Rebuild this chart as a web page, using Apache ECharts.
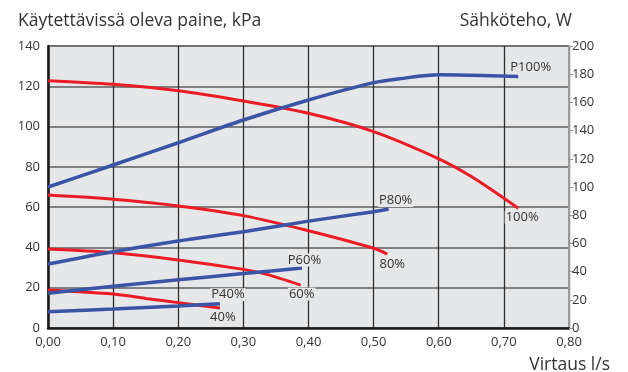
<!DOCTYPE html>
<html>
<head>
<meta charset="utf-8">
<script src="https://cdn.jsdelivr.net/npm/echarts@6/dist/echarts.min.js"></script>
<style>
  html, body { margin: 0; padding: 0; background: #ffffff; }
  #chart { width: 628px; height: 372px; }
</style>
</head>
<body>
<div id="chart"></div>
<script>
// Flow (l/s) and available pressure (kPa) per pump speed
const flow100 = [0, 0.10, 0.20, 0.30, 0.40, 0.50, 0.60, 0.65, 0.722];
const press100 = [122.8, 121.0, 117.8, 112.7, 106.6, 97.5, 84.0, 75.2, 59.5];
const flow80 = [0, 0.10, 0.20, 0.30, 0.40, 0.50, 0.521];
const press80 = [66.0, 63.9, 60.6, 55.8, 48.3, 39.6, 36.7];
const flow60 = [0, 0.10, 0.20, 0.30, 0.336, 0.388];
const press60 = [39.2, 37.4, 33.8, 29.1, 26.6, 21.3];
const flow40 = [0, 0.10, 0.15, 0.20, 0.264];
const press40 = [18.9, 16.9, 14.7, 12.6, 9.9];

// Flow (l/s) and electrical power (W) per pump speed
const pflow100 = [0, 0.10, 0.20, 0.30, 0.40, 0.50, 0.54, 0.60, 0.65, 0.722];
const power100 = [100, 115.6, 131.4, 147.5, 161.7, 174.0, 176.8, 179.6, 179.2, 178.3];
const pflow80 = [0, 0.10, 0.20, 0.30, 0.40, 0.50, 0.523];
const power80 = [45.4, 54.1, 61.7, 68.3, 75.8, 82.5, 84.4];
const pflow60 = [0, 0.10, 0.20, 0.30, 0.39];
const power60 = [24.6, 29.6, 34.2, 38.6, 42.5];
const pflow40 = [0, 0.10, 0.20, 0.264];
const power40 = [11.6, 13.5, 15.6, 17.2];

// Axis ticks
const flowTicks = [0, 0.10, 0.20, 0.30, 0.40, 0.50, 0.60, 0.70, 0.80];
const pressTicks = [0, 20, 40, 60, 80, 100, 120, 140];
const powerTicks = [0, 20, 40, 60, 80, 100, 120, 140, 160, 180, 200];

const RED = '#ec1c24';
const BLUE = '#3a55a6';
const PLOT_BG = '#e6e7e8';
const TEXT = '#333333';
const FONT = 'Open Sans';

function pairs(xs, ys, labelText, offset) {
  return xs.map((x, i) => {
    const item = { value: [x, ys[i]] };
    if (i === xs.length - 1) {
      item.label = {
        show: true,
        formatter: labelText,
        position: 'inside',
        offset: offset,
        color: TEXT,
        fontFamily: FONT,
        fontSize: 13,
        backgroundColor: PLOT_BG,
        padding: [0, 1]
      };
    }
    return item;
  });
}

function curve(name, xs, ys, color, width, yIndex, labelText, offset, z) {
  return {
    name: name,
    type: 'line',
    smooth: 0.3,
    yAxisIndex: yIndex,
    symbol: 'circle',
    symbolSize: 0.01,
    showSymbol: true,
    itemStyle: { color: color },
    lineStyle: { color: color, width: width, cap: 'butt' },
    emphasis: { disabled: true },
    z: z,
    data: pairs(xs, ys, labelText, offset)
  };
}

const chart = echarts.init(document.getElementById('chart'), null, { renderer: 'canvas' });

chart.setOption({
  animation: false,
  backgroundColor: '#ffffff',
  textStyle: { fontFamily: FONT },
  title: [
    { text: 'Käytettävissä oleva paine, kPa', left: 13, top: 7,
      textStyle: { fontSize: 17.5, fontWeight: 'normal', color: TEXT, fontFamily: FONT } },
    { text: 'Sähköteho, W', right: 51, top: 7,
      textStyle: { fontSize: 17.5, fontWeight: 'normal', color: TEXT, fontFamily: FONT } },
    { text: 'Virtaus l/s', right: 13, top: 351,
      textStyle: { fontSize: 17.5, fontWeight: 'normal', color: TEXT, fontFamily: FONT } }
  ],
  grid: { left: 48, right: 59, top: 46, bottom: 44, show: true,
          backgroundColor: PLOT_BG, borderColor: '#999999', borderWidth: 1.5 },
  xAxis: {
    type: 'value', min: flowTicks[0], max: flowTicks[flowTicks.length - 1], interval: 0.1,
    axisLine: { show: true, lineStyle: { color: '#1a1a1a', width: 2.5 } },
    axisTick: { show: false },
    axisLabel: { color: TEXT, fontSize: 13, fontFamily: FONT, margin: 8,
                 formatter: v => v.toFixed(2).replace('.', ',') },
    splitLine: { show: true, lineStyle: { color: '#2e2e2e', width: 1.3 } }
  },
  yAxis: [
    {
      type: 'value', min: pressTicks[0], max: pressTicks[pressTicks.length - 1], interval: 20,
      position: 'left',
      axisLine: { show: true, lineStyle: { color: '#1a1a1a', width: 2.5 } },
      axisTick: { show: false },
      axisLabel: { color: TEXT, fontSize: 13, fontFamily: FONT, margin: 8 },
      splitLine: { show: true, lineStyle: { color: '#5e5e5e', width: 1.5 } }
    },
    {
      type: 'value', min: powerTicks[0], max: powerTicks[powerTicks.length - 1], interval: 20,
      position: 'right',
      axisLine: { show: true, lineStyle: { color: '#9a9a9a', width: 2 } },
      axisTick: { show: true, inside: false, length: 4, lineStyle: { color: '#9a9a9a', width: 1 } },
      axisLabel: { color: TEXT, fontSize: 13, fontFamily: FONT, margin: 3 },
      splitLine: { show: false }
    }
  ],
  series: [
    curve('100%', flow100, press100, RED, 3, 0, '100%', [4, 9], 3),
    curve('80%', flow80, press80, RED, 3, 0, '80%', [5, 10], 3),
    curve('60%', flow60, press60, RED, 3, 0, '60%', [1, 9], 3),
    curve('40%', flow40, press40, RED, 3, 0, '40%', [3, 9], 3),
    curve('P100%', pflow100, power100, BLUE, 3.5, 1, 'P100%', [12.5, -9.5], 4),
    curve('P80%', pflow80, power80, BLUE, 3.5, 1, 'P80%', [7, -8.5], 4),
    curve('P60%', pflow60, power60, BLUE, 3.5, 1, 'P60%', [2.5, -8], 4),
    curve('P40%', pflow40, power40, BLUE, 3.5, 1, 'P40%', [8, -9], 4)
  ]
});
</script>
</body>
</html>
